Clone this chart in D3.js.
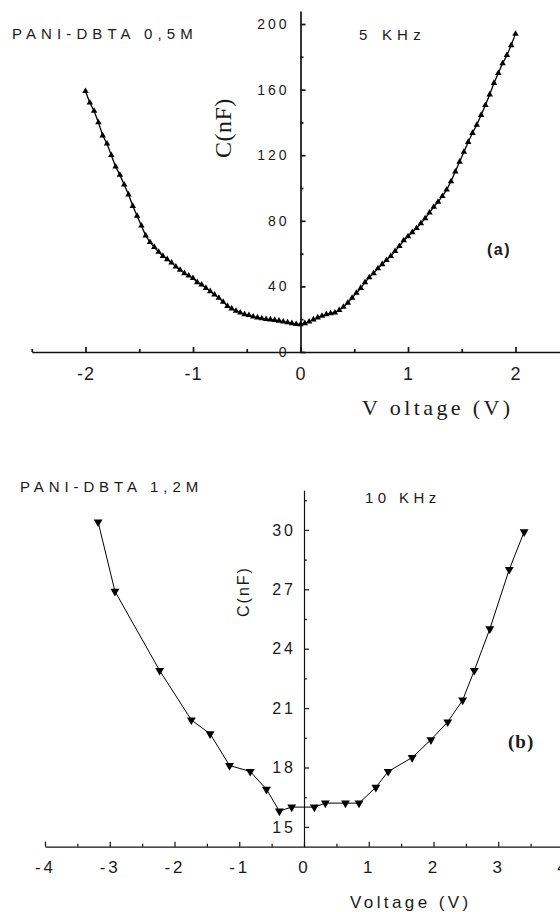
<!DOCTYPE html>
<html>
<head>
<meta charset="utf-8">
<script src="https://cdn.jsdelivr.net/npm/d3@7"></script>
<style>
  html, body { margin: 0; padding: 0; background: #fff; }
  svg { display: block; }
  .lab { fill: #1a1a1a; }
</style>
</head>
<body>
<div id="chart"></div>
<script>
// (a) PANI-DBTA 0,5M at 5 KHz: capacitance vs bias voltage
const voltageA = [
  -2.00, -1.96, -1.92, -1.88, -1.84, -1.80, -1.76, -1.72, -1.68, -1.64,
  -1.60, -1.56, -1.52, -1.48, -1.44, -1.40, -1.36, -1.32, -1.28, -1.24,
  -1.20, -1.16, -1.12, -1.08, -1.04, -1.00, -0.96, -0.92, -0.88, -0.84,
  -0.80, -0.76, -0.72, -0.68, -0.64, -0.60, -0.56, -0.52, -0.48, -0.44,
  -0.40, -0.36, -0.32, -0.28, -0.24, -0.20, -0.16, -0.12, -0.08, -0.04,
   0.00,  0.04,  0.08,  0.12,  0.16,  0.20,  0.24,  0.28,  0.32,  0.36,
   0.40,  0.44,  0.48,  0.52,  0.56,  0.60,  0.64,  0.68,  0.72,  0.76,
   0.80,  0.84,  0.88,  0.92,  0.96,  1.00,  1.04,  1.08,  1.12,  1.16,
   1.20,  1.24,  1.28,  1.32,  1.36,  1.40,  1.44,  1.48,  1.52,  1.56,
   1.60,  1.64,  1.68,  1.72,  1.76,  1.80,  1.84,  1.88,  1.92,  1.96,
   2.00
];
const capacitanceA = [
  159, 152, 147, 140, 132, 127, 120, 113, 108, 102,
  96, 89, 83, 77, 71, 67, 64, 61, 58.5, 56.5,
  54.5, 52, 50, 48, 46.5, 45, 42.5, 41, 39, 37,
  35, 33, 30.5, 28, 26.5, 25, 24, 23, 22.5, 21.5,
  21, 20.5, 20, 19.8, 19.5, 19, 18.5, 18, 17.5, 17,
  16.8, 17.5, 18.5, 19.8, 21, 22, 23, 23.5, 24, 25.5,
  27.5, 30, 33, 36, 39, 42.5, 45.5, 48, 51, 53.5,
  56, 58.5, 61.5, 64.5, 68, 70.5, 73, 75.5, 78.5, 81.5,
  85, 88.5, 91.5, 95, 99, 104, 110, 116, 122, 128,
  133.5, 138.5, 144.5, 150.5, 157, 164, 170, 176, 181, 187,
  194
];
const xMajorA = [-2, -1, 0, 1, 2];
const xMinorA = [-2.5, -1.5, -0.5, 0.5, 1.5, 2.5];
const yMajorA = [0, 40, 80, 120, 160, 200];
const yMinorA = [20, 60, 100, 140, 180];

// (b) PANI-DBTA 1,2M at 10 KHz
const voltageB = [
  -3.18, -2.92, -2.23, -1.74, -1.45, -1.15, -0.83, -0.58, -0.38, -0.19,
   0.16,  0.33,  0.64,  0.85,  1.11,  1.30,  1.67,  1.96,  2.22,  2.45,
   2.63,  2.87,  3.17,  3.40
];
const capacitanceB = [
  30.4, 26.9, 22.9, 20.4, 19.7, 18.1, 17.8, 16.9, 15.8, 16.0,
  16.0, 16.2, 16.2, 16.2, 17.0, 17.8, 18.5, 19.4, 20.3, 21.4,
  22.9, 25.0, 28.0, 29.9
];
const xMajorB = [-4, -3, -2, -1, 0, 1, 2, 3, 4];
const xMinorB = [-3.5, -2.5, -1.5, -0.5, 0.5, 1.5, 2.5, 3.5];
const yMajorB = [15, 18, 21, 24, 27, 30];
const yMinorB = [16.5, 19.5, 22.5, 25.5, 28.5, 31.5];

const W = 560, H = 912;
const svg = d3.select("#chart").append("svg")
  .attr("width", W).attr("height", H);

const sans = "'Liberation Sans', Arial, sans-serif";
const serif = "'Liberation Serif', 'Times New Roman', serif";
const fmtSigned = d => (d < 0 ? "-" + Math.abs(d) : String(d));

function drawAxes(g, x, y, o) {
  // minor ticks first (no labels, no domain)
  g.append("g").attr("transform", `translate(0,${y(o.yBase)})`)
    .call(d3.axisBottom(x).tickValues(o.xMinor).tickSizeInner(-3).tickSizeOuter(0).tickFormat(""))
    .call(s => s.select(".domain").remove())
    .call(s => s.selectAll("line").attr("stroke", "#111").attr("stroke-width", o.sw));
  g.append("g").attr("transform", `translate(${x(0)},0)`)
    .call(d3.axisLeft(y).tickValues(o.yMinor).tickSizeInner(-3).tickSizeOuter(0).tickFormat(""))
    .call(s => s.select(".domain").remove())
    .call(s => s.selectAll("line").attr("stroke", "#111").attr("stroke-width", o.sw));

  const gx = g.append("g").attr("transform", `translate(0,${y(o.yBase)})`)
    .call(d3.axisBottom(x).tickValues(o.xMajor).tickSizeInner(-5).tickSizeOuter(0)
      .tickPadding(o.xPad).tickFormat(fmtSigned));
  gx.select(".domain").attr("stroke", "#111").attr("stroke-width", o.sw);
  gx.selectAll("line").attr("stroke", "#111").attr("stroke-width", o.sw);
  gx.selectAll("text").attr("fill", "#1a1a1a").style("font-family", sans)
    .style("font-size", o.xFont + "px").style("letter-spacing", o.xLs + "px");

  const gy = g.append("g").attr("transform", `translate(${x(0)},0)`)
    .call(d3.axisLeft(y).tickValues(o.yMajor).tickSizeInner(-5).tickSizeOuter(0)
      .tickPadding(o.yPad));
  gy.select(".domain").attr("stroke", "#111").attr("stroke-width", o.sw);
  gy.selectAll("line").attr("stroke", "#111").attr("stroke-width", o.sw);
  gy.selectAll("text").attr("fill", "#1a1a1a").style("font-family", sans)
    .style("font-size", o.yFont + "px").style("letter-spacing", o.yLs + "px");
  gy.attr("font-size", null);
  gx.attr("font-size", null);
}

function label(txt, x, y, font, size, ls, opts = {}) {
  const t = svg.append("text").attr("class", "lab")
    .attr("x", x).attr("y", y)
    .style("font-family", font).style("font-size", size + "px")
    .style("letter-spacing", ls + "px")
    .attr("text-anchor", opts.anchor || "start")
    .text(txt);
  if (opts.bold) t.style("font-weight", "bold");
  if (opts.rotate) t.attr("transform", `rotate(-90,${x},${y})`);
  return t;
}

// ---------- panel (a) ----------
const xA = d3.scaleLinear().domain([-2.5, 2.5]).range([31.75, 569.25]);
const yA = d3.scaleLinear().domain([0, 208]).range([352, 10.9]);
const gA = svg.append("g");
drawAxes(gA, xA, yA, {
  yBase: 0, xMajor: xMajorA, xMinor: xMinorA, yMajor: yMajorA, yMinor: yMinorA,
  sw: 1.7, xPad: 15, xFont: 18, xLs: 1, yPad: 11, yFont: 14, yLs: 3
});

const ptsA = voltageA.map((v, i) => [v, capacitanceA[i]]);
gA.append("path").datum(ptsA)
  .attr("fill", "none").attr("stroke", "#000").attr("stroke-width", 1.3)
  .attr("d", d3.line().x(d => xA(d[0])).y(d => yA(d[1])));
gA.selectAll("path.mk").data(ptsA).join("path").attr("class", "mk")
  .attr("transform", d => `translate(${xA(d[0])},${yA(d[1])})`)
  .attr("d", d3.symbol(d3.symbolTriangle, 18))
  .attr("fill", "#000");

label("PANI-DBTA 0,5M", 12, 39, sans, 15, 5.1);
label("5 KHz", 359, 40, sans, 15, 5.2);
label("(a)", 487, 255, sans, 16, 1.5, { bold: true });
label("C(nF)", 231, 158, serif, 24, 0.5, { rotate: true });
label("V oltage (V)", 362, 415, serif, 22, 3.4);

// ---------- panel (b) ----------
const xB = d3.scaleLinear().domain([-4, 4]).range([45, 563]);
const yB = d3.scaleLinear().domain([14, 32]).range([846.7, 490.3]);
const gB = svg.append("g");
drawAxes(gB, xB, yB, {
  yBase: 14, xMajor: xMajorB, xMinor: xMinorB, yMajor: yMajorB, yMinor: yMinorB,
  sw: 1.2, xPad: 14, xFont: 17, xLs: 3, yPad: 8, yFont: 16, yLs: 3
});

const ptsB = voltageB.map((v, i) => [v, capacitanceB[i]]);
gB.append("path").datum(ptsB)
  .attr("fill", "none").attr("stroke", "#000").attr("stroke-width", 1)
  .attr("d", d3.line().x(d => xB(d[0])).y(d => yB(d[1])));
gB.selectAll("path.mk").data(ptsB).join("path").attr("class", "mk")
  .attr("transform", d => `translate(${xB(d[0])},${yB(d[1])}) rotate(180)`)
  .attr("d", d3.symbol(d3.symbolTriangle, 34))
  .attr("fill", "#000");

label("PANI-DBTA 1,2M", 20, 492, sans, 15, 4.9);
label("10 KHz", 365, 503, sans, 15, 4.4);
label("(b)", 508, 748, serif, 19, 1, { bold: true });
label("C(nF)", 249, 617, sans, 16, 2, { rotate: true });
label("Voltage  (V)", 350, 908, sans, 17, 3.4);
</script>
</body>
</html>
